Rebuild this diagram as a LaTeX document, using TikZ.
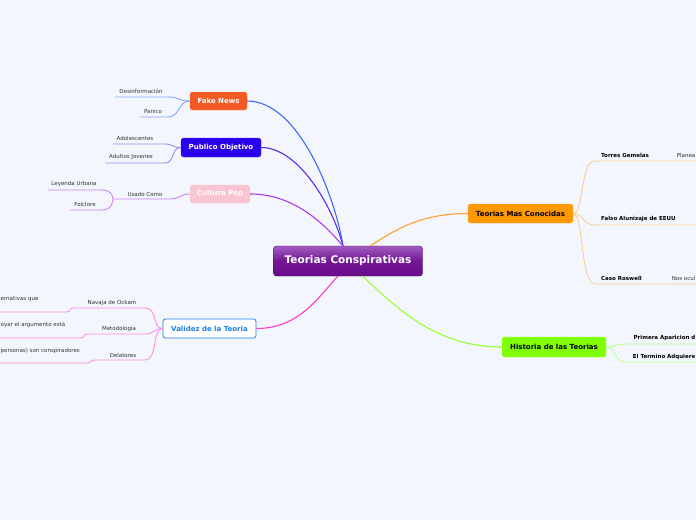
\documentclass[tikz,border=0pt]{standalone}
\usepackage{fontspec}
\setmainfont{DejaVu Sans}
\usepackage{xcolor}
\usetikzlibrary{positioning, calc}
\definecolor{bgcol}{RGB}{243, 246, 253}
\definecolor{fakecol}{RGB}{241, 90, 36}
\definecolor{pubcol}{RGB}{43, 0, 240}
\definecolor{popcol}{RGB}{250, 197, 210}
\definecolor{valcol}{RGB}{26, 127, 232}
\definecolor{tmccol}{RGB}{255, 153, 0}
\definecolor{histcol}{RGB}{128, 255, 0}
\definecolor{rootdark}{RGB}{106, 10, 140}
\definecolor{rootlight}{RGB}{160, 92, 192}
\definecolor{fakelink}{RGB}{61, 107, 255}
\definecolor{publink}{RGB}{90, 43, 238}
\definecolor{poplink}{RGB}{176, 58, 238}
\definecolor{vallink}{RGB}{255, 60, 210}
\definecolor{tmclink}{RGB}{255, 160, 48}
\definecolor{histlink}{RGB}{153, 255, 51}
\definecolor{faketwig}{RGB}{133, 164, 255}
\definecolor{pubtwig}{RGB}{155, 137, 242}
\definecolor{poptwig}{RGB}{206, 129, 245}
\definecolor{valtwig}{RGB}{255, 143, 230}
\definecolor{tmctwig}{RGB}{255, 205, 150}
\definecolor{histtwig}{RGB}{190, 255, 140}
\tikzset{
    topic/.style={rounded corners=2.5pt, font=\fontsize{7}{8}\selectfont\bfseries, text=white, minimum height=19pt, inner sep=0pt},
    leaf/.style={font=\fontsize{5.5}{6.5}\selectfont, text=black!80, inner sep=0pt},
    bleaf/.style={leaf, font=\fontsize{5.5}{6.5}\selectfont\bfseries, text=black},
    link/.style={line width=1.1pt},
    twig/.style={line width=0.9pt},
}

\begin{document}
\begin{tikzpicture}[x=1pt, y=-1pt]
    % Background
    \fill[bgcol] (0,0) rectangle (696,520);
    \useasboundingbox (0,0) rectangle (696,520);

    % Root
    \node[rounded corners=3pt, draw=rootdark!70!black, top color=rootlight, bottom color=rootdark, middle color=rootdark!85!rootlight,
          minimum width=149pt, minimum height=30pt, inner sep=0pt, text=white, font=\fontsize{10.5}{12}\selectfont\bfseries]
          (root) at (348,261) {Teorias Conspirativas};
    \coordinate (rootN) at (343,246);
    \coordinate (rootNE) at (370,246);
    \coordinate (rootS) at (338,276);
    \coordinate (rootSE) at (362,276);

    % Main topics
    \node[topic, fill=fakecol, draw=fakecol!80!white, minimum width=57pt, minimum height=18pt] (fake) at (218.5,101) {Fake News};
    \node[topic, fill=pubcol, draw=pubcol!80!white, minimum width=80pt] (pub) at (221,147.5) {Publico Objetivo};
    \node[topic, fill=popcol, draw=popcol!90!white, minimum width=60pt, minimum height=18pt] (pop) at (220,194) {Cultura Pop};
    \node[topic, fill=white, draw=valcol, text=valcol, line width=0.8pt, minimum width=93pt] (val) at (209.5,328.5) {Validez de la Teoria};
    \node[topic, fill=tmccol, draw=tmccol!80!white, text=black, minimum width=105pt] (tmc) at (520.5,213.5) {Teorias Mas Conocidas};
    \node[topic, fill=histcol, draw=histcol!80!white, text=black, minimum width=104pt, minimum height=20pt] (hist) at (554,347) {Historia de las Teorias};

    % Links from root
    \draw[link, fakelink] (fake.east) .. controls (300,101) and (336,200) .. (rootN);
    \draw[link, publink] (pub.east) .. controls (300,147.5) and (334,210) .. (rootN);
    \draw[link, poplink] (pop.east) .. controls (295,194) and (325,225) .. (rootN);
    \draw[link, vallink] (val.east) .. controls (300,328.5) and (320,295) .. (rootS);
    \draw[link, tmclink] (tmc.west) .. controls (420,213.5) and (395,230) .. (rootNE);
    \draw[link, histlink] (hist.west) .. controls (430,347) and (390,300) .. (rootSE);

    % Fake News
    \node[leaf] (des) at (141,91) {Desinformación};
    \node[leaf] (pan) at (153,111) {Panico};
    \coordinate (desL) at (115,97); \coordinate (desR) at (168,97);
    \coordinate (panL) at (140,117); \coordinate (panR) at (168,117);
    \draw[twig, faketwig] (desL) -- (desR) .. controls (180,97) and (178,101) .. (fake.west);
    \draw[twig, faketwig] (panL) -- (panR) .. controls (180,117) and (178,101) .. (fake.west);

    % Publico Objetivo
    \node[leaf] (ado) at (135,138) {Adolescentes};
    \node[leaf] (adu) at (131,157) {Adultos Jovenes};
    \coordinate (adoL) at (113,144); \coordinate (adoR) at (165,144);
    \coordinate (aduL) at (105,163); \coordinate (aduR) at (165,163);
    \draw[twig, pubtwig] (adoL) -- (adoR) .. controls (173,144) and (172,147.5) .. (pub.west);
    \draw[twig, pubtwig] (aduL) -- (aduR) .. controls (175,163) and (171,147.5) .. (pub.west);

    % Cultura Pop
    \node[leaf] (usa) at (145,194) {Usado Como};
    \node[leaf] (ley) at (74,184) {Leyenda Urbana};
    \node[leaf] (fol) at (85,204) {Folclore};
    \coordinate (usaL) at (113,199); \coordinate (usaR) at (170,199);
    \coordinate (leyL) at (48,190); \coordinate (leyR) at (102,190);
    \coordinate (folL) at (70,210); \coordinate (folR) at (102,210);
    \draw[twig, poptwig] (usaL) -- (usaR) .. controls (180,199) and (180,194) .. (pop.west);
    \draw[twig, poptwig] (leyL) -- (leyR) .. controls (113,190) and (113,199) .. (usaL);
    \draw[twig, poptwig] (folL) -- (folR) .. controls (113,210) and (113,199) .. (usaL);

    % Validez de la Teoria
    \node[leaf] (nav) at (112,303) {Navaja de Ockam};
    \node[leaf] (met) at (119,329) {Metodologia};
    \node[leaf] (del) at (123,355) {Delatores};
    \node[leaf, anchor=west] (navc) at (0.5,299) {ernativas que};
    \node[leaf, anchor=west] (metc) at (0.5,325) {oyar el argumento está};
    \node[leaf, anchor=west] (delc) at (0.5,351) {personas) son conspiradores};
    \coordinate (navL) at (74,308); \coordinate (navR) at (145,308);
    \coordinate (metL) at (88,334); \coordinate (metR) at (145,334);
    \coordinate (delL) at (95,360); \coordinate (delR) at (145,360);
    \coordinate (navcL) at (0,312); \coordinate (navcR) at (66,312);
    \coordinate (metcL) at (0,338); \coordinate (metcR) at (80,338);
    \coordinate (delcL) at (0,363); \coordinate (delcR) at (87,363);
    \draw[twig, valtwig] (navL) -- (navR) .. controls (158,308) and (152,328.5) .. (val.west);
    \draw[twig, valtwig] (metL) -- (metR) .. controls (154,334) and (154,328.5) .. (val.west);
    \draw[twig, valtwig] (delL) -- (delR) .. controls (158,360) and (152,328.5) .. (val.west);
    \draw[twig, valtwig] (navcL) -- (navcR) .. controls (72,312) and (68,308) .. (navL);
    \draw[twig, valtwig] (metcL) -- (metcR) .. controls (86,338) and (82,334) .. (metL);
    \draw[twig, valtwig] (delcL) -- (delcR) .. controls (93,363) and (89,360) .. (delL);

    % Teorias Mas Conocidas
    \node[bleaf, anchor=west] (tor) at (601,155) {Torres Gemelas};
    \node[bleaf, anchor=west] (alu) at (601,218.5) {Falso Alunizaje de EEUU};
    \node[bleaf, anchor=west] (ros) at (601,278) {Caso Roswell};
    \node[leaf, anchor=east] (torc) at (695.5,155) {Planea};
    \node[leaf, anchor=east] (rosc) at (695.5,278) {Nos ocul};
    \coordinate (torL) at (595,161); \coordinate (torR) at (696,161);
    \coordinate (aluL) at (595,225); \coordinate (aluR) at (696,225);
    \coordinate (rosL) at (595,284); \coordinate (rosR) at (696,284);
    \draw[twig, tmctwig] (tmc.east) .. controls (584,213.5) and (580,161) .. (torL) -- (torR);
    \draw[twig, tmctwig] (tmc.east) .. controls (584,213.5) and (582,225) .. (aluL) -- (aluR);
    \draw[twig, tmctwig] (tmc.east) .. controls (584,213.5) and (580,284) .. (rosL) -- (rosR);

    % Historia de las Teorias
    \node[bleaf, anchor=east] (pri) at (695.5,338) {Primera Aparicion d};
    \node[bleaf, anchor=east] (ter) at (695.5,357) {El Termino Adquiere};
    \coordinate (priL) at (625,344); \coordinate (priR) at (696,344);
    \coordinate (terL) at (625,362); \coordinate (terR) at (696,362);
    \draw[twig, histtwig] (hist.east) .. controls (616,347) and (614,344) .. (priL) -- (priR);
    \draw[twig, histtwig] (hist.east) .. controls (616,347) and (614,362) .. (terL) -- (terR);

\end{tikzpicture}
\end{document}
